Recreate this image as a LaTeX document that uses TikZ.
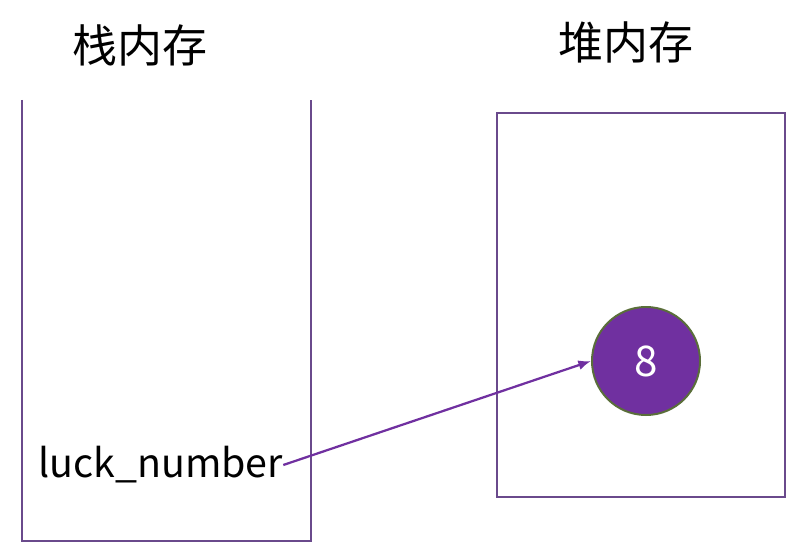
\documentclass[tikz,border=0pt]{standalone}
\usepackage{fontspec}
\setmainfont{Noto Sans CJK SC}
\usetikzlibrary{arrows.meta}
\definecolor{memline}{HTML}{6A4A8C}
\definecolor{valfill}{HTML}{7030A0}
\definecolor{valedge}{HTML}{5A6E3A}
\begin{document}
\begin{tikzpicture}[x=0.025cm,y=-0.025cm,
  title/.style={font=\fontsize{32}{36}\selectfont},
  varname/.style={font=\fontsize{28}{32}\selectfont,inner sep=0pt},
  value/.style={circle,fill=valfill,draw=valedge,line width=1.4pt,minimum size=2.7cm,text=white,font=\fontsize{30}{34}\selectfont}]
\useasboundingbox (0,0) rectangle (802,557);

\node[title] (stacktitle) at (140,45) {栈内存};
\node[title] (heaptitle) at (626,42) {堆内存};

\draw[memline,line width=1.2pt] (22,100) -- (22,541) -- (311,541) -- (311,100);
\draw[memline,line width=1.2pt] (497,113) rectangle (785,497);

\node[value] (eight) at (646,361) {8};
\node[varname,anchor=west] (luck) at (38,465) {luck\_number};

\draw[valfill,line width=1.6pt,-{Latex[length=9pt,width=7pt]}] (luck.east) -- (eight.west);

\end{tikzpicture}
\end{document}
